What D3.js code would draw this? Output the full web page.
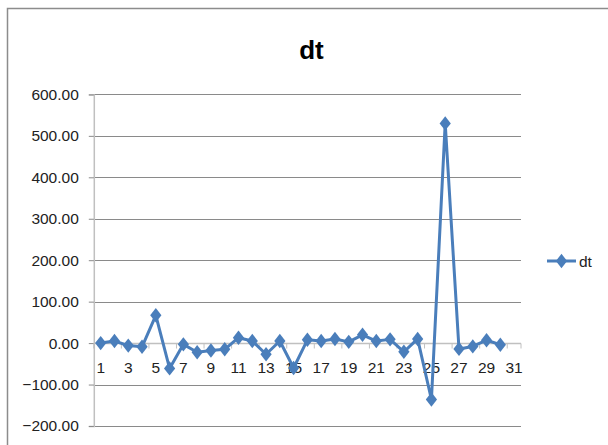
<!DOCTYPE html>
<html>
<head>
<meta charset="utf-8">
<script src="https://cdn.jsdelivr.net/npm/d3@7"></script>
<style>
  html, body { margin: 0; padding: 0; background: #fff; }
  svg { display: block; }
</style>
</head>
<body>
<svg id="chart" width="608" height="445"></svg>
<script>
const title = "dt";
const seriesName = "dt";
const categories = d3.range(1, 32);           // 1..31 on the axis
const values = [0, 5, -6, -9, 67, -61, -3, -22, -18, -15,
                13, 5, -27, 5, -60, 8, 5, 10, 3, 20,
                5, 9, -21, 10, -136, 530, -14, -8, 7, -4];
const yTicks = [-200, -100, 0, 100, 200, 300, 400, 500, 600];
const xLabels = categories.filter(c => c % 2 === 1);

(function () {
const svg = d3.select("#chart");
const font = "'Liberation Sans', Arial, sans-serif";
const color = "#4a7ebb";

// outer frame
svg.append("rect").attr("x", 7.5).attr("y", 8.5).attr("width", 700).attr("height", 500)
  .attr("fill", "none").attr("stroke", "#8c8c8c").attr("stroke-width", 1.5);

const pLeft = 93.8, pRight = 521, pTop = 94.4, pBottom = 426;
const x = d3.scaleBand().domain(categories).range([pLeft, pRight]).paddingInner(0).paddingOuter(0);
const y = d3.scaleLinear().domain([-200, 600]).range([pBottom, pTop]);

// gridlines
svg.append("g").selectAll("line").data(yTicks.filter(t => t !== 0)).join("line")
  .attr("x1", pLeft).attr("x2", pRight)
  .attr("y1", d => Math.round(y(d)) + 0.5).attr("y2", d => Math.round(y(d)) + 0.5)
  .attr("stroke", "#8a8a8a").attr("stroke-width", 1);

// y axis
const yAxis = svg.append("g").attr("transform", `translate(${pLeft},0)`)
  .call(d3.axisLeft(y).tickValues(yTicks).tickSize(5).tickPadding(10).tickFormat(d3.format(".2f")));
yAxis.select(".domain").attr("stroke", "#c0c0c0").attr("stroke-width", 1.5);
yAxis.selectAll(".tick line").attr("stroke", "#8a8a8a");
yAxis.selectAll("text").attr("font-family", font).attr("font-size", "15.5px").attr("fill", "#222");

// x axis at zero
const y0 = Math.round(y(0)) + 0.5;
const xg = svg.append("g");
xg.append("line").attr("x1", pLeft).attr("x2", pRight).attr("y1", y0).attr("y2", y0)
  .attr("stroke", "#c0c0c0").attr("stroke-width", 1.5);
const boundaries = categories.filter((c, i) => i % 2 === 0).map(c => x(c)).concat([pRight]);
xg.selectAll("line.tk").data(boundaries).join("line").attr("class", "tk")
  .attr("x1", d => d).attr("x2", d => d).attr("y1", y0).attr("y2", y0 + 5)
  .attr("stroke", "#c0c0c0").attr("stroke-width", 1);
xg.selectAll("text").data(xLabels).join("text")
  .attr("x", d => x(d) + x.bandwidth() / 2).attr("y", y0 + 29)
  .attr("text-anchor", "middle").attr("font-family", font).attr("font-size", "15.5px")
  .attr("fill", "#222").text(d => d);

// series line
const pts = values.map((v, i) => ({ c: categories[i], v }));
const line = d3.line().x(d => x(d.c) + x.bandwidth() / 2).y(d => y(d.v));
svg.append("path").datum(pts).attr("d", line).attr("fill", "none")
  .attr("stroke", color).attr("stroke-width", 3).attr("stroke-linejoin", "round");

const diamond = d3.symbol().type(d3.symbolDiamond).size(60);
svg.append("g").selectAll("path").data(pts).join("path")
  .attr("transform", d => `translate(${x(d.c) + x.bandwidth() / 2},${y(d.v)}) scale(1.35,1)`)
  .attr("d", diamond).attr("fill", color);

// title
svg.append("text").attr("x", 311.5).attr("y", 59).attr("text-anchor", "middle")
  .attr("font-family", font).attr("font-weight", "bold").attr("font-size", "26px")
  .attr("fill", "#000").text(title);

// legend
const lg = svg.append("g");
lg.append("line").attr("x1", 547).attr("x2", 576).attr("y1", 261).attr("y2", 261)
  .attr("stroke", color).attr("stroke-width", 3);
lg.append("path").attr("transform", "translate(561.5,261) scale(1.35,1)").attr("d", diamond).attr("fill", color);
lg.append("text").attr("x", 579).attr("y", 267).attr("font-family", font).attr("font-size", "15.5px")
  .attr("fill", "#222").text(seriesName);
})();
</script>
</body>
</html>
